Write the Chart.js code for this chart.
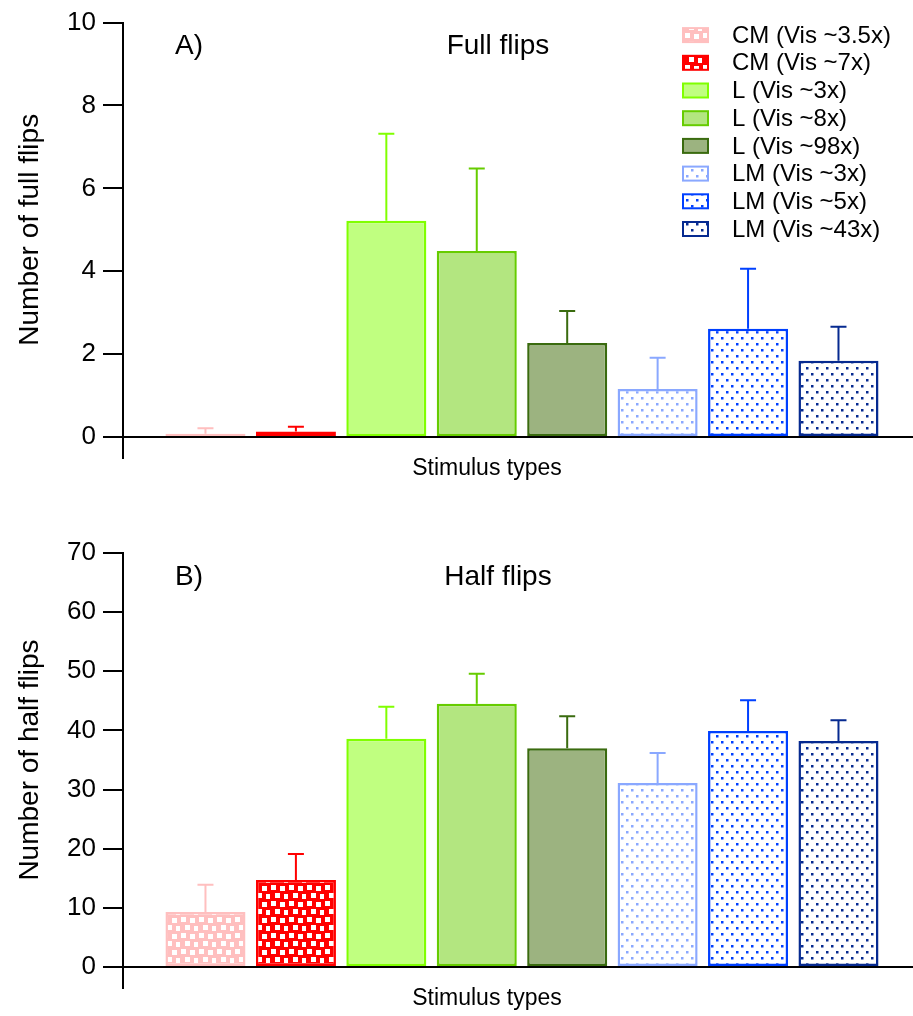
<!DOCTYPE html>
<html lang="en">
<head>
<meta charset="UTF-8">
<title>Full and half flips by stimulus type</title>
<script src="https://cdn.jsdelivr.net/npm/chart.js@4.4.0/dist/chart.umd.min.js"></script>
<style>
    body { margin: 0; background: #fff; }
    .panel { position: absolute; left: 0; width: 913px; }
    #top { top: 0; height: 500px; }
    #bottom { top: 500px; height: 516px; }
</style>
</head>
<body>

<div class="panel" id="top"><canvas id="fullChart"></canvas></div>
<div class="panel" id="bottom"><canvas id="halfChart"></canvas></div>

<script>
    const categories = ["CM (Vis ~3.5x)", "CM (Vis ~7x)", "L (Vis ~3x)", "L (Vis ~8x)",
                        "L (Vis ~98x)", "LM (Vis ~3x)", "LM (Vis ~5x)", "LM (Vis ~43x)"];

    const fullFlips    = [0.08, 0.13, 5.22, 4.49, 2.27, 1.16, 2.61, 1.84];
    const fullFlipsErr = [0.13, 0.12, 2.10, 1.99, 0.77, 0.75, 1.45, 0.82];
    const fullTicks    = [0, 2, 4, 6, 8, 10];

    const halfFlips    = [9.3, 14.7, 38.6, 44.5, 37.0, 31.1, 39.9, 38.2];
    const halfFlipsErr = [4.6, 4.4, 5.4, 5.1, 5.4, 5.1, 5.2, 3.5];
    const halfTicks    = [0, 10, 20, 30, 40, 50, 60, 70];

    // style per stimulus type
    const kinds   = ["squares", "squares", "solid", "solid", "solid", "dots", "dots", "dots"];
    const fills   = ["#ffbfbf", "#ff0000", "#c0ff80", "#b3e680", "#9cb380", "#8aa8ff", "#0040ff", "#062a90"];
    const borders = ["#ffbfbf", "#ff0000", "#80ff00", "#66cc00", "#3a6b0f", "#8aa8ff", "#0040ff", "#062a90"];

    const FONT = '"Liberation Sans", Arial, sans-serif';

    function makePattern(ctx, kind, color) {
        if (kind === "solid") return color;
        const c = document.createElement("canvas");
        const p = c.getContext("2d");
        if (kind === "squares") {
            c.width = 18; c.height = 16;
            p.fillStyle = color;
            p.fillRect(0, 0, 18, 16);
            p.fillStyle = "#fff";
            [[1, 1], [10, 2], [5, 9], [14, 10]].forEach(([x, y]) => p.fillRect(x, y, 5, 5));
        } else {
            c.width = 10; c.height = 12;
            p.fillStyle = "#fff";
            p.fillRect(0, 0, 10, 12);
            p.fillStyle = color;
            p.fillRect(1, 1, 2.5, 2.5);
            p.fillRect(6, 7, 2.5, 2.5);
        }
        return ctx.createPattern(c, "repeat");
    }

    // error bars, panel label, title, x title and legend
    const annotate = {
        id: "annotate",
        afterDatasetsDraw(chart, args, opts) {
            const {ctx, chartArea, scales: {y}} = chart;
            const ds = chart.data.datasets[0];
            const meta = chart.getDatasetMeta(0);
            ctx.save();
            ctx.lineWidth = 2;
            meta.data.forEach((bar, i) => {
                const top = y.getPixelForValue(ds.data[i].y + opts.errors[i]);
                ctx.strokeStyle = borders[i];
                ctx.beginPath();
                ctx.moveTo(bar.x, bar.y);
                ctx.lineTo(bar.x, top);
                ctx.moveTo(bar.x - 8, top);
                ctx.lineTo(bar.x + 8, top);
                ctx.stroke();
            });

            ctx.fillStyle = "#000";
            ctx.textBaseline = "middle";
            ctx.font = "28px " + FONT;
            ctx.textAlign = "left";
            ctx.fillText(opts.panel, chartArea.left + 52, chartArea.top + 24);
            ctx.textAlign = "center";
            ctx.fillText(opts.title, chartArea.left + 375, chartArea.top + 24);

            ctx.font = "23px " + FONT;
            ctx.fillText("Stimulus types", chartArea.left + 364, chartArea.bottom + 32);

            if (opts.legend) {
                ctx.font = "24px " + FONT;
                ctx.textAlign = "left";
                chart.data.labels.forEach((label, i) => {
                    const cy = chartArea.top + 12.5 + i * 27.7;
                    const bx = chartArea.left + 560;
                    ctx.fillStyle = ds.backgroundColor[i];
                    ctx.fillRect(bx, cy - 7, 25, 14);
                    ctx.strokeStyle = ds.borderColor[i];
                    ctx.strokeRect(bx, cy - 7, 25, 14);
                    ctx.fillStyle = "#000";
                    ctx.fillText(label, chartArea.left + 609, cy + 1);
                });
            }
            ctx.restore();
        }
    };

    function renderChart(id, values, errors, ticks, yTitle, panel, title, padTop, xHeight, legend) {
        const ctx = document.getElementById(id).getContext("2d");
        new Chart(ctx, {
            type: "bar",
            data: {
                labels: categories,
                datasets: [{
                    data: values.map((v, i) => ({x: i + 1, y: v})),
                    backgroundColor: kinds.map((k, i) => makePattern(ctx, k, fills[i])),
                    borderColor: borders,
                    borderWidth: 2.5,
                    borderSkipped: false,
                    barPercentage: 0.885,
                    categoryPercentage: 1
                }]
            },
            options: {
                responsive: true,
                maintainAspectRatio: false,
                animation: false,
                events: [],
                layout: { padding: { top: padTop, left: 0, right: 0, bottom: 0 } },
                plugins: {
                    legend: { display: false },
                    tooltip: { enabled: false },
                    annotate: { errors: errors, panel: panel, title: title, legend: legend }
                },
                scales: {
                    x: {
                        type: "linear",
                        min: 0.088,
                        max: 8.824,
                        offset: false,
                        afterBuildTicks: s => { s.ticks = [{value: s.min}]; },
                        afterFit: s => { s.height = xHeight; },
                        ticks: { callback: () => "" },
                        grid: { offset: false, drawOnChartArea: false, tickLength: 22, color: "#000", lineWidth: 2 },
                        border: { color: "#000", width: 2 }
                    },
                    y: {
                        min: ticks[0],
                        max: ticks[ticks.length - 1],
                        afterBuildTicks: s => { s.ticks = ticks.map(v => ({value: v})); },
                        afterFit: s => { s.width = 123; },
                        ticks: { color: "#000", padding: 7, font: { size: 26, family: FONT } },
                        grid: { drawOnChartArea: false, tickLength: 20, color: "#000", lineWidth: 2 },
                        border: { color: "#000", width: 2 },
                        title: {
                            display: true,
                            text: yTitle,
                            color: "#000",
                            padding: { top: 13, bottom: 0 },
                            font: { size: 28, family: FONT }
                        }
                    }
                }
            },
            plugins: [annotate]
        });
    }

    renderChart("fullChart", fullFlips, fullFlipsErr, fullTicks, "Number of full flips", "A)", "Full flips", 22, 63, true);
    renderChart("halfChart", halfFlips, halfFlipsErr, halfTicks, "Number of half flips", "B)", "Half flips", 53, 49, false);
</script>

</body>
</html>
